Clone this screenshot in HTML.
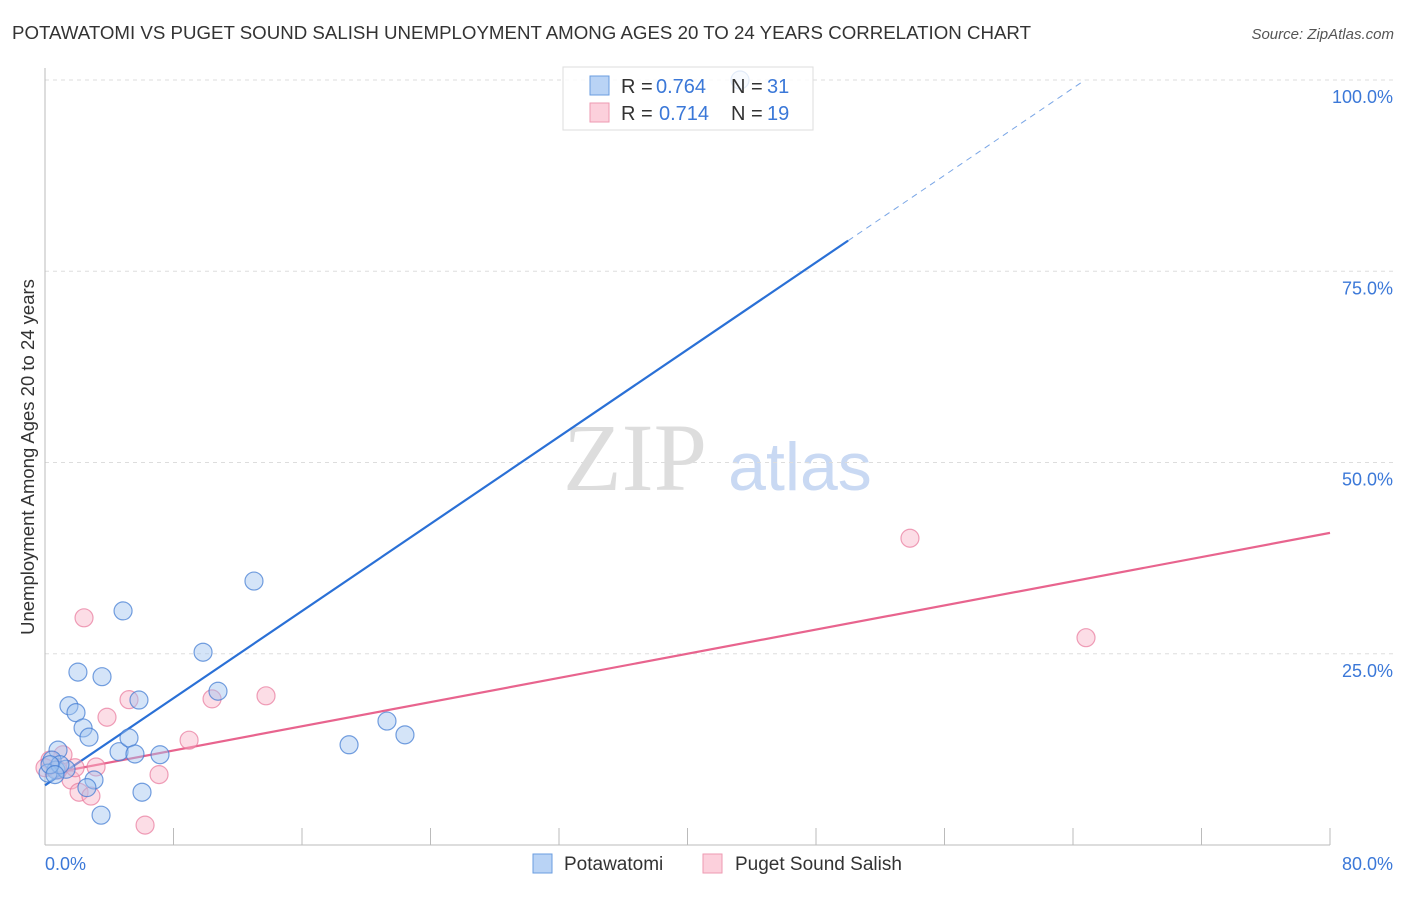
<!DOCTYPE html>
<html><head><meta charset="utf-8"><style>
body{margin:0;background:#fff;font-family:"Liberation Sans",sans-serif;}
</style></head><body>
<svg width="1406" height="892" xmlns="http://www.w3.org/2000/svg">
<text x="12" y="39" font-size="18.6" fill="#333" textLength="1019" lengthAdjust="spacingAndGlyphs">POTAWATOMI VS PUGET SOUND SALISH UNEMPLOYMENT AMONG AGES 20 TO 24 YEARS CORRELATION CHART</text>
<text x="1394" y="39" font-size="15" fill="#555" text-anchor="end" font-style="italic">Source: ZipAtlas.com</text>
<text x="635" y="490" font-size="96" fill="#ddd" font-family="Liberation Serif,serif" text-anchor="middle">ZIP</text>
<text x="800" y="490" font-size="68" fill="#c9d9f3" text-anchor="middle">atlas</text>
<g id="grid"></g>
<line x1="45" y1="68" x2="45" y2="845" stroke="#bbb"/>
<line x1="45" y1="845" x2="1330" y2="845" stroke="#bbb"/>
<text transform="translate(34,457) rotate(-90)" font-size="18.5" fill="#333" text-anchor="middle">Unemployment Among Ages 20 to 24 years</text>
<text x="45" y="870" font-size="18" fill="#3b78d8">0.0%</text>
<text x="1393" y="870" font-size="18" fill="#3b78d8" text-anchor="end">80.0%</text>
<g id="lines"></g>
<g id="pts"></g>
<g>
<rect x="563" y="67" width="250" height="63" fill="rgba(255,255,255,0.8)" stroke="#ddd"/>
<rect x="590" y="76" width="19" height="19" fill="#b9d3f5" stroke="#6a9de0"/>
<rect x="590" y="103" width="19" height="19" fill="#fcd0dc" stroke="#ee9ab2"/>
<text x="621" y="93" font-size="20" fill="#333">R =</text>
<text x="656" y="93" font-size="20" fill="#3b78d8">0.764</text>
<text x="731" y="93" font-size="20" fill="#333">N =</text>
<text x="767" y="93" font-size="20" fill="#3b78d8">31</text>
<text x="621" y="120" font-size="20" fill="#333">R =</text>
<text x="659" y="120" font-size="20" fill="#3b78d8">0.714</text>
<text x="731" y="120" font-size="20" fill="#333">N =</text>
<text x="767" y="120" font-size="20" fill="#3b78d8">19</text>
</g>
<rect x="533" y="854" width="19" height="19" fill="#b9d3f5" stroke="#6a9de0"/>
<text x="564" y="870" font-size="19" fill="#333">Potawatomi</text>
<rect x="703" y="854" width="19" height="19" fill="#fcd0dc" stroke="#ee9ab2"/>
<text x="735" y="870" font-size="19" fill="#333">Puget Sound Salish</text>
</svg>
<script>
const yTicks=[25,50,75,100];
const yTickLabels=["25.0%","50.0%","75.0%","100.0%"];
const xTicks=[0,8,16,24,32,40,48,56,64,72,80];
const blueX=[43.27,13.01,4.86,9.84,2.05,3.55,10.77,5.85,1.49,1.93,2.37,2.74,21.29,22.41,18.93,4.61,5.23,5.60,7.16,0.81,0.44,0.68,0.19,1.31,3.05,2.61,6.04,3.49,0.93,0.31,0.62];
const blueY=[100,34.5,30.6,25.2,22.6,22.0,20.1,18.95,18.2,17.3,15.3,14.1,16.2,14.4,13.1,12.2,14.0,11.9,11.8,12.4,11.1,9.8,9.4,9.9,8.5,7.5,6.9,3.9,10.5,10.5,9.2];
const pinkX=[2.43,53.85,64.81,5.23,10.40,13.76,3.86,8.97,1.12,3.18,7.10,1.62,2.12,2.86,6.23,0.31,0.81,0,1.87];
const pinkY=[29.7,40.1,27.1,19.0,19.1,19.5,16.7,13.7,11.8,10.2,9.2,8.5,6.9,6.4,2.6,11.1,9.8,10.1,10.1];
const blueFit=[7.8,1.424];
const pinkFit=[9.2,0.395];
const NS="http://www.w3.org/2000/svg";
const sx=v=>45+v/80*1285, sy=v=>845-v*7.65;
function mk(t,a,p){const e=document.createElementNS(NS,t);for(const k in a)e.setAttribute(k,a[k]);document.getElementById(p).appendChild(e);return e;}
yTicks.forEach((v,i)=>{
 const l=mk('line',{x1:45,x2:1394,y1:sy(v),y2:sy(v),stroke:'#ddd','stroke-dasharray':'4,4'},'grid');
 
 
 const t=mk('text',{x:1393,y:sy(v)+23,'font-size':18,fill:'#3b78d8','text-anchor':'end'},'grid');
 t.textContent=yTickLabels[i];
 
 
});
xTicks.forEach(v=>{
 const l=mk('line',{x1:sx(v),x2:sx(v),y1:828,y2:845,stroke:'#bbb'},'grid');
 
 
});
let xe=50;
let l1=mk('line',{x1:sx(0),y1:sy(blueFit[0]),x2:sx(xe),y2:sy(blueFit[0]+blueFit[1]*xe),stroke:'#2a70d6','stroke-width':2.2},'lines');


let xd=(100-blueFit[0])/blueFit[1];
let l2=mk('line',{x1:sx(xe),y1:sy(blueFit[0]+blueFit[1]*xe),x2:sx(xd),y2:sy(100),stroke:'#7aa6e6','stroke-width':1,'stroke-dasharray':'6,5'},'lines');


let l3=mk('line',{x1:sx(0),y1:sy(pinkFit[0]),x2:sx(80),y2:sy(pinkFit[0]+pinkFit[1]*80),stroke:'#e8648e','stroke-width':2.2},'lines');


pinkX.forEach((x,i)=>{
 const c=mk('circle',{cx:sx(x),cy:sy(pinkY[i]),r:9,fill:'rgba(248,180,200,0.45)',stroke:'rgba(232,120,155,0.7)','stroke-width':1.2},'pts');
 
 
});
blueX.forEach((x,i)=>{
 const c=mk('circle',{cx:sx(x),cy:sy(blueY[i]),r:9,fill:'rgba(160,196,240,0.45)',stroke:'rgba(60,120,210,0.7)','stroke-width':1.2},'pts');
 
 
});
</script>
</body></html>
